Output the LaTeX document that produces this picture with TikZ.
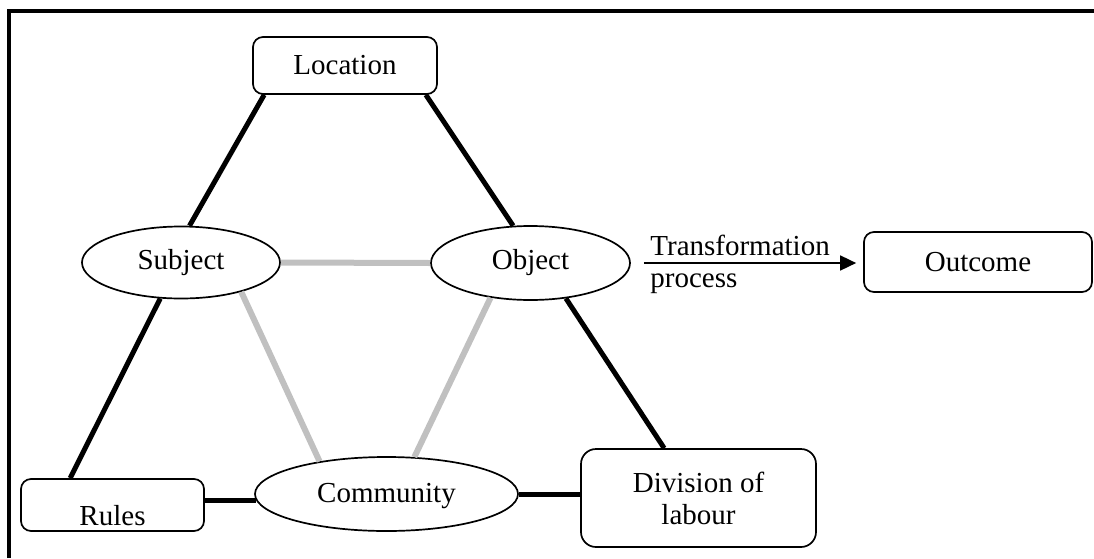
\documentclass[tikz,border=0pt]{standalone}
\usepackage{fontspec}
\setmainfont{Liberation Serif}
\usetikzlibrary{shapes.geometric,calc,arrows.meta}
\definecolor{linegray}{RGB}{192,192,192}
\begin{document}
\begin{tikzpicture}[x=0.5pt,y=-0.5pt,
  every node/.style={font=\fontsize{14.5}{16}\selectfont},
  rbox/.style={draw, line width=0.85pt, rounded corners=5pt, inner sep=0pt},
  oval/.style={draw, ellipse, line width=0.85pt, inner sep=0pt},
  blk/.style={line width=2.5pt},
  gry/.style={line width=3pt, draw=linegray},
  lbl/.style={inner sep=0pt},
]
\useasboundingbox (0,0) rectangle (1094,558);
\draw[line width=1.85pt] (9,558) -- (9,11) -- (1094,11);

\node[rbox, minimum width=92pt, minimum height=28.5pt] (loc) at (345,65.5) {Location};
\node[oval, minimum width=99pt, minimum height=36pt] (subj) at (181,262.5) {Subject};
\node[oval, minimum width=99.5pt, minimum height=37pt] (obj) at (530.5,263) {Object};
\node[rbox, minimum width=114pt, minimum height=30pt] (out) at (978,262) {Outcome};
\node[rbox, minimum width=91.5pt, minimum height=26pt] (rules) at (112.5,505) {};
\node[lbl] (rulestxt) at (112.5,516) {Rules};
\node[oval, minimum width=131.5pt, minimum height=37pt] (comm) at (386.5,494) {};
\node[lbl] (commtxt) at (386.5,496) {Community};
\node[rbox, rounded corners=7.5pt, minimum width=117.5pt, minimum height=49pt, align=center] (div) at (698.5,498) {Division of\\labour};

\draw[blk] ($(loc.south west)+(12,0)$) -- (subj.77);
\draw[blk] ($(loc.south east)+(-12,0)$) -- (obj.115);
\draw[blk] (subj.240) -- ($(rules.north west)+(50,0)$);
\draw[blk] (obj.-45) -- ($(div.north west)+(84,0)$);
\draw[blk] (rules.east |- comm.183) -- (comm.183);
\draw[blk] (comm.east) -- (comm.east -| div.west);
\draw[gry] (subj.east) -- (obj.west);
\draw[gry] (subj.-26) -- (comm.154);
\draw[gry] (obj.221) -- (comm.53);

\coordinate (arrs) at ($(obj.east)+(13,0)$);
\draw[line width=0.85pt, -{Triangle[length=8pt,width=7.5pt]}, shorten >=3.5pt] (arrs) -- (arrs -| out.west);
\node[lbl, anchor=base west] (trans) at (650,255) {Transformation};
\node[lbl, anchor=base west] (proc) at (650,287) {process};
\end{tikzpicture}
\end{document}
